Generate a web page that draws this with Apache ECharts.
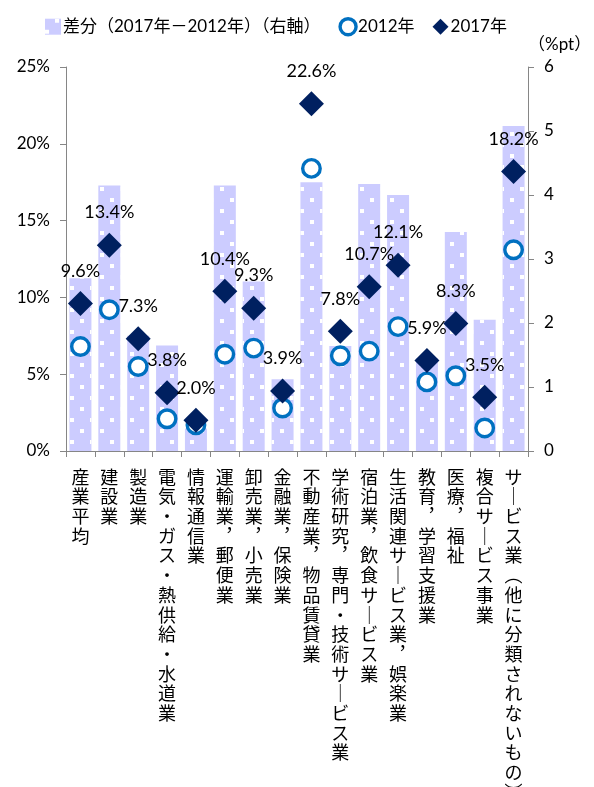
<!DOCTYPE html>
<html>
<head>
<meta charset="utf-8">
<script src="https://cdn.jsdelivr.net/npm/echarts@6/dist/echarts.min.js"></script>
<style>html,body{margin:0;padding:0;background:#fff}#c{width:594px;height:787px}</style>
</head>
<body>
<div id="c"></div>
<script>
const categories = ['産業平均','建設業','製造業','電気・ガス・熱供給・水道業','情報通信業','運輸業，郵便業','卸売業，小売業','金融業，保険業','不動産業，物品賃貸業','学術研究，専門・技術サービス業','宿泊業，飲食サービス業','生活関連サービス業，娯楽業','教育，学習支援業','医療，福祉','複合サービス事業','サービス業（他に分類されないもの）'];
const diff = [2.7, 4.15, 1.8, 1.65, 0.35, 4.15, 2.65, 1.12, 4.2, 1.64, 4.17, 4.0, 1.45, 3.42, 2.05, 5.08];
const v2012 = [6.8, 9.2, 5.5, 2.1, 1.7, 6.3, 6.7, 2.8, 18.4, 6.2, 6.5, 8.1, 4.5, 4.9, 1.5, 13.1];
const v2017 = [9.6, 13.4, 7.3, 3.8, 2.0, 10.4, 9.3, 3.9, 22.6, 7.8, 10.7, 12.1, 5.9, 8.3, 3.5, 18.2];
const leftTicks = {min: 0, max: 25, interval: 5};
const rightTicks = {min: 0, max: 6, interval: 1};
const nameDiff = '差分（2017年－2012年）（右軸）';
const name2012 = '2012年';
const name2017 = '2017年';

const FONT = "Lato, 'Noto Sans CJK JP', sans-serif";
const JP = "'Noto Sans CJK JP', sans-serif";
function vert(s){
  const map = {'ー':'｜','，':'︐','（':'︵','）':'︶'};
  return s.split('').map(ch => map[ch] || ch).join('\n');
}
const chart = echarts.init(document.getElementById('c'), null, {renderer:'canvas'});
chart.setOption({
  animation: false,
  textStyle: {fontFamily: FONT, color: '#000'},
  legend: {
    top: 12, left: 40, itemGap: 18, itemWidth: 16, itemHeight: 16,
    textStyle: {fontSize: 17, fontFamily: FONT, color: '#000', padding: [0, 0, 0, -3]},
    data: [
      {name: nameDiff, icon: 'path://M4,4L12,4L12,12L4,12Z', itemStyle: {color: '#CCCCFF'}},
      {name: name2012, icon: 'circle', itemStyle: {borderWidth: 3.4}},
      {name: name2017, icon: 'diamond'}
    ]
  },
  grid: {left: 66, right: 66, top: 67, bottom: 336, containLabel: false, outerBoundsMode: 'none'},
  xAxis: {
    type: 'category', data: categories,
    axisLine: {lineStyle: {color: '#868686'}},
    axisTick: {show: true, interval: 0, length: 6, lineStyle: {color: '#868686'}},
    axisLabel: {interval: 0, margin: 16, fontFamily: JP, fontSize: 18, lineHeight: 19.7, color: '#000', verticalAlign: 'top', formatter: v => vert(v)}
  },
  yAxis: [
    {type: 'value', min: leftTicks.min, max: leftTicks.max, interval: leftTicks.interval,
     splitLine: {show: false},
     axisLine: {show: true, lineStyle: {color: '#868686'}},
     axisTick: {show: true, length: 6, lineStyle: {color: '#868686'}},
     axisLabel: {formatter: '{value}%', fontSize: 17, color: '#000', margin: 16}},
    {type: 'value', min: rightTicks.min, max: rightTicks.max, interval: rightTicks.interval,
     name: '（%pt）', nameLocation: 'end', nameGap: 14,
     nameTextStyle: {fontSize: 17, color: '#000', align: 'left', padding: [0, 0, 0, 0]},
     splitLine: {show: false},
     axisLine: {show: true, lineStyle: {color: '#868686'}},
     axisTick: {show: true, length: 6, lineStyle: {color: '#868686'}},
     axisLabel: {fontSize: 17, color: '#000', margin: 16}}
  ],
  series: [
    {name: nameDiff, type: 'bar', yAxisIndex: 1, data: diff, barWidth: 22,
     itemStyle: {color: '#CCCCFF',
       decal: {symbol: 'rect', symbolSize: 1, color: '#ffffff',
               dashArrayX: [[4, 16], [0, 10, 4, 6]], dashArrayY: [4, 7]}}},
    {name: name2012, type: 'scatter', data: v2012, symbol: 'circle', symbolSize: 17.5, z: 3,
     itemStyle: {color: '#ffffff', borderColor: '#0070C0', borderWidth: 3.4, opacity: 1}},
    {name: name2017, type: 'scatter', data: v2017, symbol: 'diamond', symbolSize: 25, z: 4,
     itemStyle: {color: '#002060', opacity: 1},
     label: {show: true, position: 'top', distance: 11, fontSize: 18, color: '#000',
             formatter: p => p.value.toFixed(1) + '%'}}
  ]
});
</script>
</body>
</html>
